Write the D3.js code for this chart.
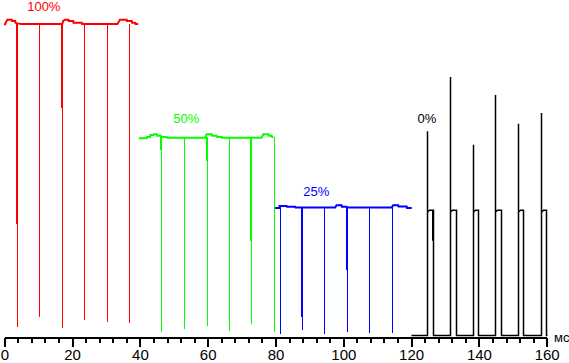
<!DOCTYPE html>
<html>
<head>
<meta charset="utf-8">
<script src="https://cdn.jsdelivr.net/npm/d3@7/dist/d3.min.js"></script>
<style>
body { margin: 0; background: #fff; }
svg { display: block; font-family: "Liberation Sans", Arial, sans-serif; }
</style>
</head>
<body>
<script>
// brightness in relative units (100 = full level), time in ms

// 100% trace
let redEnvelope = [[0, 99.7], [0.2, 99.9], [0.9, 101.4], [2.2, 101.4], [2.3, 101.0], [3.2, 101.0], [3.3, 100.4], [3.8, 100.2],
    [5.0, 100.0], [17.1, 100.0], [17.4, 101.0], [17.9, 101.4], [18.9, 101.4], [19.0, 101.0], [20.3, 101.0], [20.4, 100.4],
    [22.9, 100.4], [23.0, 100.0], [33.4, 100.0], [34.1, 101.4], [36.1, 101.4], [36.2, 101.0], [37.6, 101.0], [37.7, 100.4],
    [38.6, 100.4], [38.7, 100.0], [39.5, 100.0]]
let redSpikeTimes = [3.8, 10.3, 17.1, 23.6, 30.4, 36.9]
let redSpikeBottoms = [2.8, 6.0, 2.5, 5.1, 4.4, 4.1]
let redDoubleTimes = [3.8, 17.1]
let redDoubleBottoms = [35.8, 73]

// 50% trace
let greenEnvelope = [[39.7, 63.3], [42.0, 63.3], [42.1, 63.7], [43.0, 63.7], [43.1, 64.4], [44.0, 64.4], [44.1, 64.6], [45.0, 64.6],
    [45.1, 64.1], [46.2, 64.1], [46.3, 63.7], [47.9, 63.7], [48.0, 63.5], [59.2, 63.5], [59.7, 64.6], [61.2, 64.6],
    [61.3, 64.1], [62.7, 64.1], [62.8, 63.7], [64.1, 63.7], [64.2, 63.5], [75.9, 63.5], [76.4, 64.6], [77.9, 64.6],
    [78.0, 64.1], [78.9, 64.1], [79.0, 63.7], [79.4, 63.7]]
let greenSpikeTimes = [46.3, 53.1, 59.7, 66.4, 72.9, 79.6]
let greenSpikeBottoms = [1.2, 2.1, 3.1, 1.5, 3.8, 1.2]
let greenDoubleTimes = [46.3, 59.7, 72.9]
let greenDoubleBottoms = [59.5, 56, 30.3]

// 25% trace
let blueEnvelope = [[79.9, 40.9], [81.2, 40.9], [81.2, 41.6], [83.3, 41.6], [83.4, 41.3], [85.8, 41.3], [85.9, 41.1], [97.6, 41.1],
    [98.0, 41.8], [99.5, 41.8], [99.6, 41.3], [101.0, 41.3], [101.1, 41.1], [114.3, 41.1], [114.7, 41.8], [116.2, 41.8],
    [116.3, 41.4], [118.7, 41.4], [118.8, 40.9], [120.2, 40.9]]
let blueSpikeTimes = [81.2, 87.7, 94.4, 101.2, 107.7, 114.5]
let blueSpikeBottoms = [0.6, 1.8, 0.4, 1.2, 0.7, 0.9]
let blueDoubleTimes = [87.7, 101.2]
let blueDoubleBottoms = [6.0, 21]

// 0% trace
let blackStart = 120
let blackEnd = 160
let blackRise = [124.8, 131.6, 138.2, 144.8, 151.5, 158.2]
let blackPeak = [65.6, 83.0, 61.2, 77.2, 68.0, 71.4]
let blackStep = [125.4, 132.2, 138.8, 145.4, 152.1, 158.8]
let blackShoulder = [39.6, 39.6, 39.6, 39.6, 39.6, 39.6]
let blackTop = [40.2, 40.2, 40.2, 40.2, 40.2, 40.2]
let blackFall = [126.5, 133.2, 139.8, 146.4, 153.1, 159.7]

let traceLabels = ["100%", "50%", "25%", "0%"]
let xTicks = [0, 20, 40, 60, 80, 100, 120, 140, 160]
let xMinorTicks = [0, 4, 8, 12, 16, 20, 24, 28, 32, 36, 40, 44, 48, 52, 56, 60, 64, 68, 72, 76, 80,
    84, 88, 92, 96, 100, 104, 108, 112, 116, 120, 124, 128, 132, 136, 140, 144, 148, 152, 156, 160]

let width = 569, height = 363

let xScale = d3.scaleLinear().domain([0, 160]).range([4.3, 546.7])
let yScale = d3.scaleLinear().domain([0, 100]).range([335.5, 24])

let svg = d3.select("body").append("svg")
    .attr("width", width)
    .attr("height", height)

let line = d3.line()
    .x(d => xScale(d[0]))
    .y(d => yScale(d[1]))

function px(t) { return Math.round(xScale(t)) + 0.5 }

function drawTrace(env, spikeT, spikeB, dblT, dblB, color, level) {
    let g = svg.append("g")
    g.selectAll(".spike")
        .data(spikeT)
        .enter().append("line")
        .attr("x1", d => px(d)).attr("x2", d => px(d))
        .attr("y1", yScale(level))
        .attr("y2", (d, i) => yScale(spikeB[i]))
        .attr("stroke", color)
        .attr("stroke-width", 1)
        .attr("shape-rendering", "crispEdges")
    g.selectAll(".dbl")
        .data(dblT)
        .enter().append("line")
        .attr("x1", d => px(d) - 1).attr("x2", d => px(d) - 1)
        .attr("y1", yScale(level))
        .attr("y2", (d, i) => yScale(dblB[i]))
        .attr("stroke", color)
        .attr("stroke-width", 1)
        .attr("shape-rendering", "crispEdges")
    g.append("path")
        .datum(env)
        .attr("d", line)
        .attr("fill", "none")
        .attr("stroke", color)
        .attr("stroke-width", 2)
}

drawTrace(redEnvelope, redSpikeTimes, redSpikeBottoms, redDoubleTimes, redDoubleBottoms, "#ff0000", 100)
drawTrace(greenEnvelope, greenSpikeTimes, greenSpikeBottoms, greenDoubleTimes, greenDoubleBottoms, "#00ff00", 63.6)
drawTrace(blueEnvelope, blueSpikeTimes, blueSpikeBottoms, blueDoubleTimes, blueDoubleBottoms, "#0000ff", 41.1)

// black pulse train
let blackPts = [[blackStart, 0]]
blackRise.forEach(function (r, i) {
    blackPts.push([r, 0], [r, blackPeak[i]], [r, blackShoulder[i]], [blackStep[i], blackTop[i]],
        [blackFall[i], blackTop[i]], [blackFall[i], 0])
})
blackPts.push([blackEnd, 0])

svg.append("path")
    .datum(blackPts)
    .attr("d", d3.line().x(d => Math.round(xScale(d[0])) + 0.5).y(d => yScale(d[1])))
    .attr("fill", "none")
    .attr("stroke", "#000")
    .attr("stroke-width", 1.5)

// secondary edge on first falling edge
svg.append("line")
    .attr("x1", px(blackFall[0]) - 1).attr("x2", px(blackFall[0]) - 1)
    .attr("y1", yScale(blackTop[0])).attr("y2", yScale(30.4))
    .attr("stroke", "#000").attr("stroke-width", 1)

// labels
let labelColors = ["#ff0000", "#00ff00", "#0000ff", "#000000"]
let labelX = [43.8, 186.3, 316.3, 427]
let labelY = [10.6, 123, 196, 122.7]
svg.selectAll(".lbl")
    .data(traceLabels)
    .enter().append("text")
    .attr("x", (d, i) => labelX[i])
    .attr("y", (d, i) => labelY[i])
    .attr("text-anchor", "middle")
    .attr("font-size", "13px")
    .attr("fill", (d, i) => labelColors[i])
    .text(d => d)

// x axis
let axisY = 337.5
let minor = svg.append("g")
    .attr("transform", "translate(0," + axisY + ")")
    .call(d3.axisBottom(xScale).tickValues(xMinorTicks).tickSize(5).tickSizeOuter(0).tickFormat(""))
minor.select(".domain").remove()
minor.selectAll("line").attr("stroke", "#000").attr("stroke-width", 2).attr("shape-rendering", "crispEdges")

let axis = svg.append("g")
    .attr("transform", "translate(0," + axisY + ")")
    .call(d3.axisBottom(xScale).tickValues(xTicks).tickSize(9).tickSizeOuter(0).tickPadding(3))
axis.select(".domain").attr("stroke", "#000").attr("stroke-width", 2).attr("shape-rendering", "crispEdges")
axis.selectAll("line").attr("stroke", "#000").attr("stroke-width", 2).attr("shape-rendering", "crispEdges")
axis.selectAll("text")
    .attr("font-size", "15px")
    .attr("font-family", "Liberation Sans, Arial, sans-serif")
    .attr("fill", "#000")

svg.append("text")
    .attr("x", 554)
    .attr("y", 342)
    .attr("font-size", "13px")
    .text("мс")
</script>
</body>
</html>
